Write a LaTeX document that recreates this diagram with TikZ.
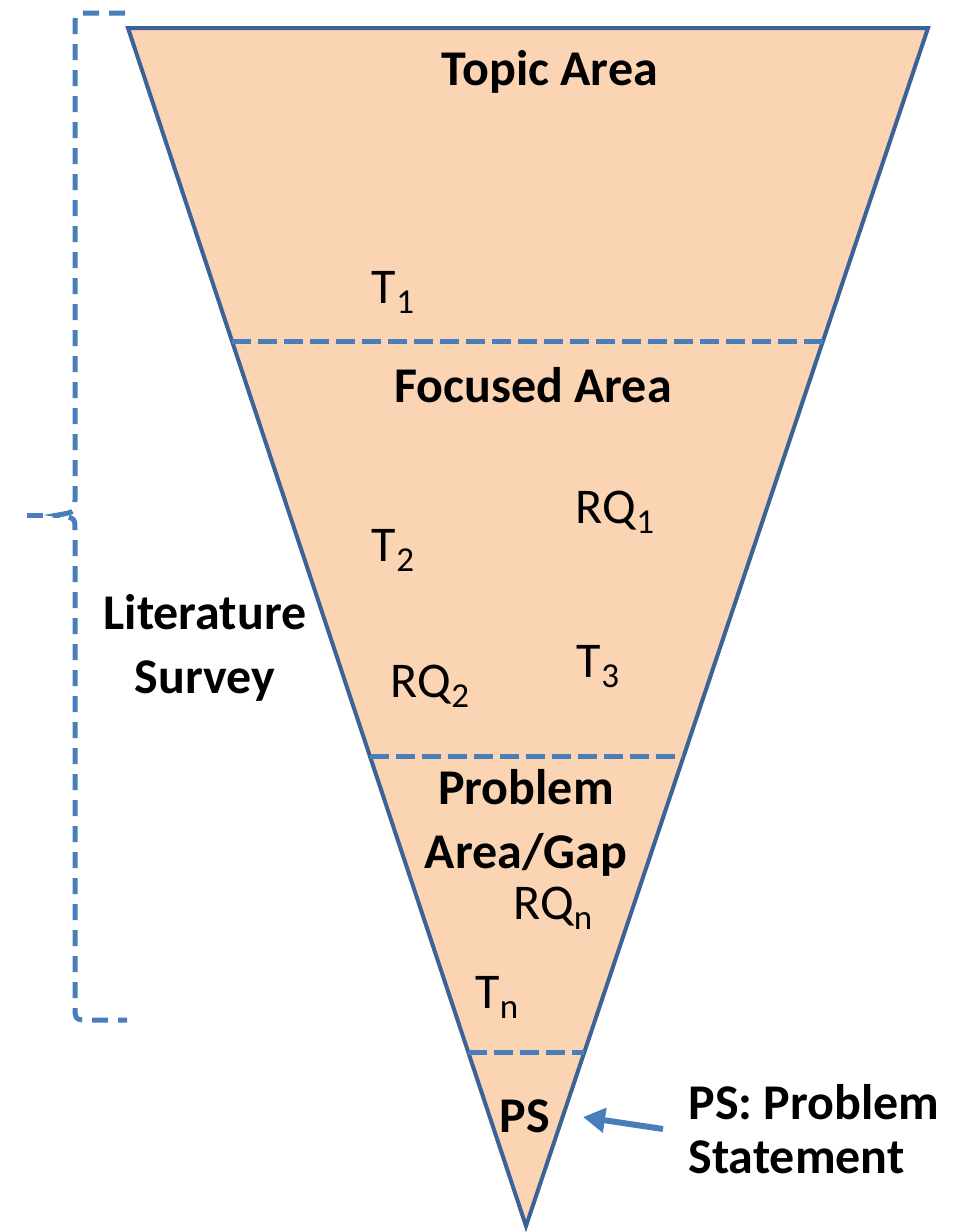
\documentclass[tikz,border=0pt]{standalone}
\usepackage{fontspec}
\setmainfont{Carlito}
\usetikzlibrary{positioning,arrows.meta,calc}
\definecolor{cborde}{HTML}{3C6296}
\definecolor{cazul}{HTML}{4A7EBB}
\definecolor{cpiel}{HTML}{FBD4B4}
\newcommand{\subind}[1]{\raisebox{-5pt}{\fontsize{17.5}{17.5}\selectfont #1}}
\tikzset{
  etq/.style={font=\fontsize{25}{31}\selectfont, inner sep=0pt},
  etqb/.style={font=\fontsize{25}{32}\selectfont\bfseries, align=center, inner sep=0pt},
  corte/.style={draw=cazul, line width=2.5pt, dash pattern=on 9.5pt off 3.5pt},
  llave/.style={draw=cazul, line width=2.5pt, dash pattern=on 8pt off 5pt},
  flecha/.style={-{Triangle[length=11pt,width=12pt]}, line width=3pt, draw=cazul},
}
\begin{document}
\begin{tikzpicture}[x=0.5pt,y=-0.5pt]
  \useasboundingbox (0,0) rectangle (960,1232);
  % embudo
  \coordinate (ai) at (128,28);
  \coordinate (ad) at (928,28);
  \coordinate (v) at (526,1226);
  \filldraw[fill=cpiel, draw=cborde, line width=2pt] (ai) -- (ad) -- (v) -- cycle;
  \draw[corte] ($(ai)!0.262!(v)$) -- ($(ad)!0.262!(v)$);
  \draw[corte] ($(ai)!0.6085!(v)$) -- ($(ad)!0.6085!(v)$);
  \draw[corte] ($(ai)!0.8548!(v)$) -- ($(ad)!0.8548!(v)$);
  % textos
  \node[etqb] (topic) at (550,72) {Topic Area};
  \node[etq] (t1) at (393,292) {T\subind{1}};
  \node[etqb] (focus) at (533,385) {Focused Area};
  \node[etq] (rq1) at (615,512) {RQ\subind{1}};
  \node[etq] (t2) at (393,550) {T\subind{2}};
  \node[etq] (t3) at (598,667) {T\subind{3}};
  \node[etq] (rq2) at (430,686) {RQ\subind{2}};
  \node[etqb] (lit) at (205,648) {Literature\\Survey};
  \node[etqb] (gap) at (526,823) {Problem\\Area/Gap};
  \node[etq] (rqn) at (553,908) {RQ\subind{n}};
  \node[etq] (tn) at (497,997) {T\subind{n}};
  \node[etqb] (ps) at (525,1116) {PS};
  \node[etqb, align=left, anchor=west, font=\fontsize{25}{27}\selectfont\bfseries] (psdef) at (688,1129) {PS: Problem\\Statement};
  \coordinate (punta) at (583,1117);
  \draw[flecha] ([xshift=-12.5pt]psdef.west) -- (punta);
  % llave
  \draw[llave] (125,13) -- (90,13) .. controls (75,13) .. (75,28) -- (75,500)
    .. controls (75,512) .. (58,515) .. controls (75,518) .. (75,530) -- (75,1005)
    .. controls (75,1020) .. (90,1020) -- (127,1020);
  \draw[llave] (27,515) -- (60,515);
\end{tikzpicture}
\end{document}
